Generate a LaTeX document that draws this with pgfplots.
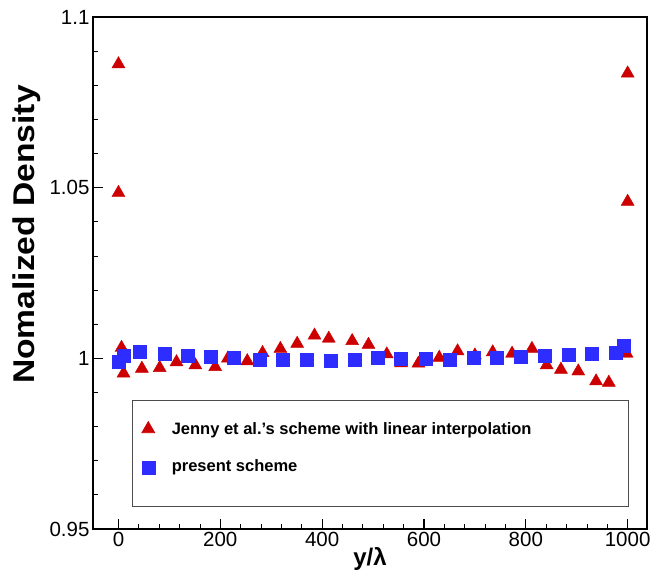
\documentclass[border=0pt]{standalone}
\usepackage{pgfplots}
\pgfplotsset{compat=1.18}
\usepackage{fontspec}
\setmainfont{Liberation Sans}
\definecolor{tri}{RGB}{204,0,0}
\definecolor{sq}{RGB}{45,45,255}
\pgfplotsset{sqlegend/.style={legend image code/.code={%
    \draw[mark repeat=2,mark phase=2,##1] plot coordinates {(0cm,4.5pt) (0.3cm,4.5pt) (0.6cm,4.5pt)};}}}
\begin{document}
\begin{tikzpicture}
\path[use as bounding box] (-93pt,-48pt) rectangle (561pt,529pt);
\begin{axis}[
  at={(0,0)}, anchor=south west,
  scale only axis, width=554pt, height=512pt,
  xmin=-50, xmax=1038, ymin=0.95, ymax=1.1,
  xtick={0,200,400,600,800,1000},
  xticklabels={0,200,400,600,800,1000},
  ytick={0.95,1,1.05,1.1},
  yticklabels={0.95,1,1.05,1.1},
  minor x tick num=4, minor y tick num=4,
  xtick pos=bottom, ytick pos=left,
  tick align=inside,
  major tick length=10pt, minor tick length=5pt,
  every tick/.style={black, line width=1.2pt},
  minor tick style={line width=0.8pt},
  axis line style={line width=1.6pt},
  /pgf/number format/assume math mode=true,
  ticklabel style={font=\fontsize{20.5}{24}\selectfont},
  xlabel={\textbf{y/\char"03BB}},
  ylabel={\scalebox{1.12}[1]{\textbf{Nomalized Density}}},
  xlabel style={font=\fontsize{24}{28}\selectfont, yshift=6pt},
  ylabel style={font=\fontsize{30}{34}\selectfont, at={(ticklabel cs:0.575)}, yshift=2pt},
  legend style={at={(rel axis cs:0.0704,0.252)}, anchor=north west,
    draw=black!70, line width=0.6pt, font=\bfseries\fontsize{16.5}{19}\selectfont,
    inner xsep=9.5pt, inner ysep=20pt, row sep=20pt},
  legend cell align=left,
]
\addplot[only marks, mark=triangle*, mark size=7.5pt, color=tri] coordinates {
(0,1.0862) (0,1.0485) (6,1.0031) (10,0.9956) (46,0.9970) (81,0.9972)
(114,0.9989) (151,0.9980) (190,0.9975) (215,1.0000) (253,0.9992) (283,1.0016)
(318,1.0028) (351,1.0043) (385,1.0067) (413,1.0058) (459,1.0051) (491,1.0040)
(527,1.0012) (555,0.9986) (589,0.9985) (630,1.0002) (666,1.0021) (700,1.0009)
(735,1.0018) (773,1.0014) (812,1.0028) (841,0.9980) (869,0.9967) (903,0.9962)
(938,0.9933) (963,0.9929) (998,1.0014) (1000,1.0459) (1000,1.0835)
};
\addlegendentry{\makebox[460pt][l]{\hspace{15pt}Jenny et al.'s scheme with linear interpolation}}
\addplot[only marks, mark=square*, mark size=6.5pt, color=sq, sqlegend] coordinates {
(0,0.9989) (10,1.0009) (42,1.0020) (90,1.0014) (136,1.0007) (182,1.0004)
(226,1.0001) (277,0.9996) (323,0.9996) (369,0.9996) (416,0.9992) (463,0.9996)
(509,1.0002) (555,0.9999) (604,0.9999) (650,0.9996) (697,1.0001) (743,1.0002)
(789,1.0006) (837,1.0007) (885,1.0011) (930,1.0014) (977,1.0017) (993,1.0038)
};
\addlegendentry[text depth=13pt]{\hspace{15pt}present scheme}
\end{axis}
\end{tikzpicture}
\end{document}
